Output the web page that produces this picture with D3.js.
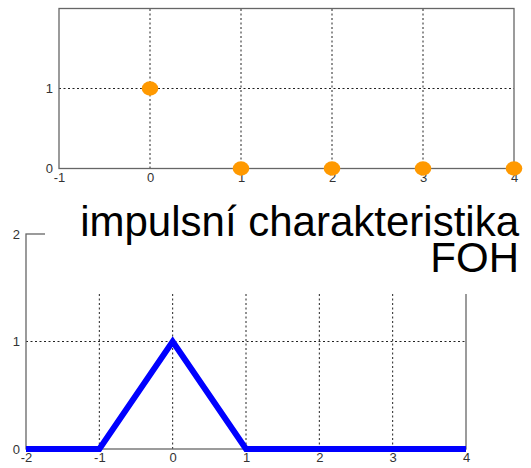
<!DOCTYPE html>
<html>
<head>
<meta charset="utf-8">
<script src="https://cdn.jsdelivr.net/npm/d3@7"></script>
<style>
  body { margin: 0; background: #fff; }
  .tick text { font-family: "Liberation Sans Narrow", "Liberation Sans", Arial, sans-serif; font-size: 13px; fill: #333; }
  .title { font-family: "Liberation Sans", Arial, sans-serif; font-size: 42px; fill: #000; }
</style>
</head>
<body>
<svg id="chart" width="531" height="468"></svg>
<script>
// discrete impulse (top)
const sampleN = [0, 1, 2, 3, 4];
const sampleH = [1, 0, 0, 0, 0];
// FOH impulse response (bottom)
const fohT = [-2, -1, 0, 1, 4];
const fohH = [0, 0, 1, 0, 0];

const topXTicks = [-1, 0, 1, 2, 3, 4];
const topYTicks = [0, 1];
const botXTicks = [-2, -1, 0, 1, 2, 3, 4];
const botYTicks = [0, 1, 2];
const titleLines = ["impulsní charakteristika", "FOH"];

const svg = d3.select("#chart");
const fmt = d => String(d);

function panel(x, y, xTicks, yTicks, gridX, gridY) {
  const g = svg.append("g");
  const [x0, x1] = x.range();
  const [y0, y1] = y.range();

  // dotted grid
  g.selectAll(".gx").data(gridX).join("line")
    .attr("x1", d => x(d)).attr("x2", d => x(d))
    .attr("y1", y0).attr("y2", y1)
    .attr("stroke", "#222").attr("stroke-dasharray", "2,2.5");
  g.selectAll(".gy").data(gridY).join("line")
    .attr("x1", x0).attr("x2", x1)
    .attr("y1", d => y(d)).attr("y2", d => y(d))
    .attr("stroke", "#222").attr("stroke-dasharray", "2,2.5");

  // box
  g.append("rect")
    .attr("x", x0).attr("y", y1)
    .attr("width", x1 - x0).attr("height", y0 - y1)
    .attr("fill", "none").attr("stroke", "#666").attr("stroke-width", 1.3);

  const xa = g.append("g").attr("transform", `translate(0,${y0})`)
    .call(d3.axisBottom(x).tickValues(xTicks).tickFormat(fmt).tickSize(0).tickPadding(4));
  xa.select(".domain").remove();
  const ya = g.append("g").attr("transform", `translate(${x0},0)`)
    .call(d3.axisLeft(y).tickValues(yTicks).tickFormat(fmt).tickSize(0).tickPadding(6));
  ya.select(".domain").remove();
  return g;
}

// ---- top plot ----
const xTop = d3.scaleLinear().domain([-1, 4]).range([59, 514]);
const yTop = d3.scaleLinear().domain([0, 2]).range([168.5, 8.5]);
const gTop = panel(xTop, yTop, topXTicks, topYTicks, [0, 1, 2, 3], [1]);

gTop.selectAll("ellipse").data(sampleN).join("ellipse")
  .attr("cx", d => xTop(d))
  .attr("cy", (d, i) => yTop(sampleH[i]))
  .attr("rx", 8.3).attr("ry", 7.2)
  .attr("fill", "#ff9900");

// ---- bottom plot ----
const xBot = d3.scaleLinear().domain([-2, 4]).range([26, 466]);
const yBot = d3.scaleLinear().domain([0, 2]).range([449, 234]);
const gBot = panel(xBot, yBot, botXTicks, botYTicks, [-1, 0, 1, 2, 3], [1]);

const line = d3.line().x(d => xBot(d[0])).y(d => yBot(d[1]));
gBot.append("path")
  .datum(fohT.map((t, i) => [t, fohH[i]]))
  .attr("d", line)
  .attr("fill", "none")
  .attr("stroke", "#0000ff")
  .attr("stroke-width", 6);

// title box covers the upper part of the lower axes
svg.append("rect")
  .attr("x", 45).attr("y", 196)
  .attr("width", 486).attr("height", 98)
  .attr("fill", "#fff");

svg.append("text").attr("class", "title")
  .attr("text-anchor", "end")
  .selectAll("tspan").data(titleLines).join("tspan")
  .attr("x", 519)
  .attr("y", (d, i) => 236 + i * 36)
  .text(d => d);
</script>
</body>
</html>
